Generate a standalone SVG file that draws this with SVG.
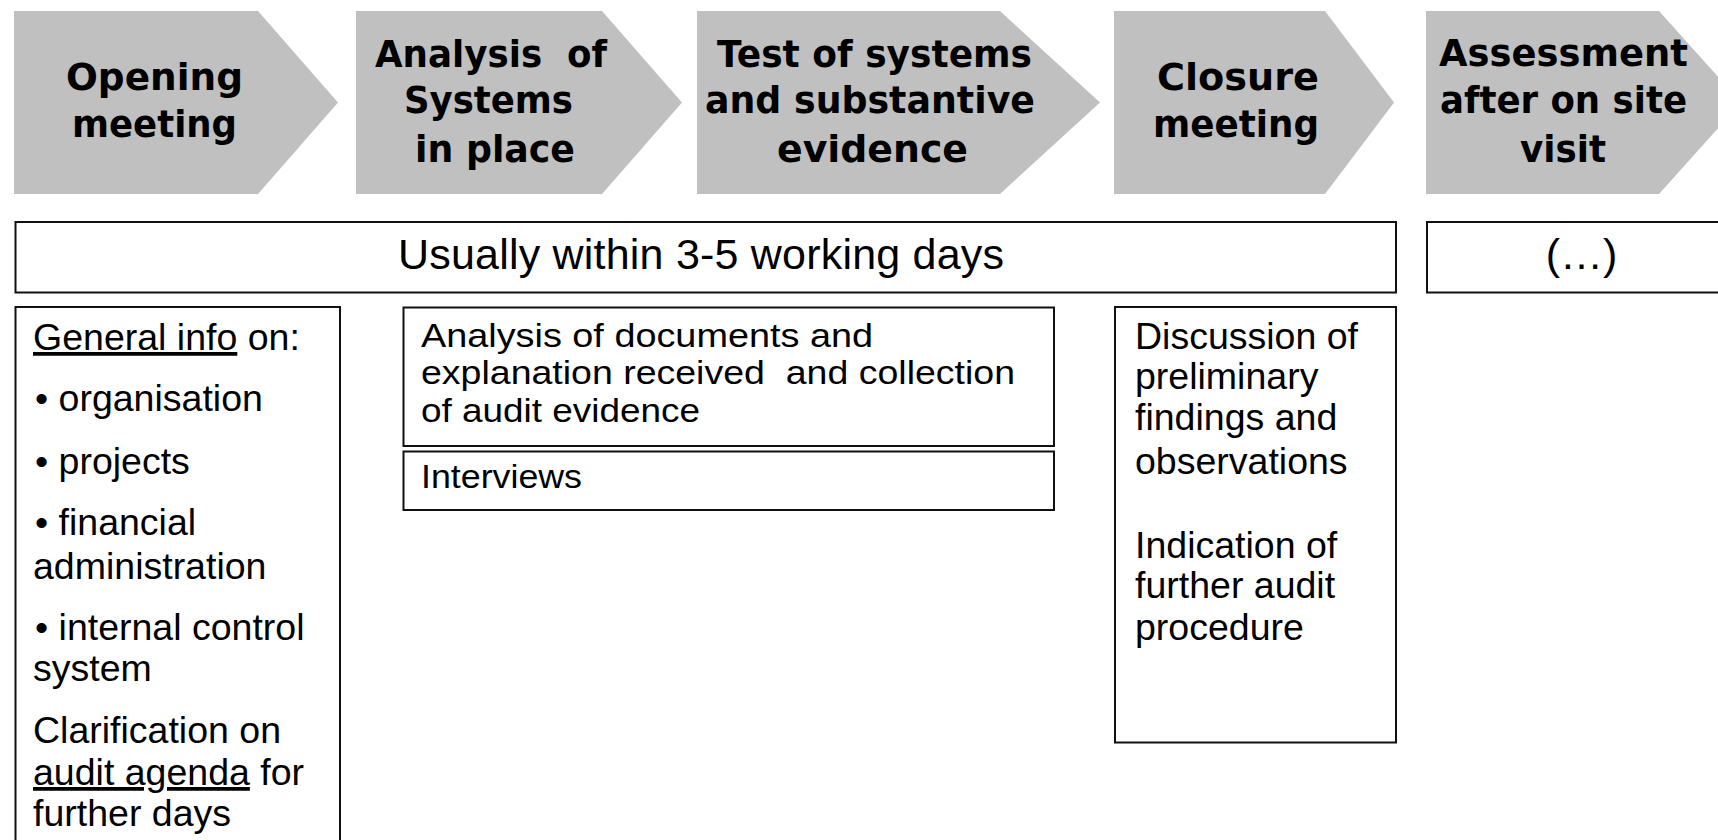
<svg xmlns="http://www.w3.org/2000/svg" width="1718" height="840" viewBox="0 0 1718 840">
  <style>
    .step { fill: #C0C0C0; }
    .head { font-family: "DejaVu Sans", "Liberation Sans", sans-serif; font-weight: bold; font-size: 38px; fill: #000; }
    .body { font-family: "Liberation Sans", Arial, sans-serif; font-size: 37.5px; fill: #000; }
    .tight { font-family: "Liberation Sans", Arial, sans-serif; font-size: 33px; fill: #000; }
    .big { font-family: "Liberation Sans", Arial, sans-serif; font-size: 43px; fill: #000; }
    .box { fill: #fff; stroke: #111; stroke-width: 2; }
    .ul { text-decoration: underline; }
  </style>

  <!-- Process steps (chevrons) -->
  <g id="step-opening">
    <polygon class="step" points="14,11 258,11 338,102.5 258,194 14,194"/>
    <text class="head" x="66" y="90" textLength="177" lengthAdjust="spacingAndGlyphs">Opening</text>
    <text class="head" x="72" y="137" textLength="165" lengthAdjust="spacingAndGlyphs">meeting</text>
  </g>

  <g id="step-analysis">
    <polygon class="step" points="356,11 602,11 682,102.5 602,194 356,194"/>
    <text class="head" x="375" y="66.7" textLength="232" lengthAdjust="spacingAndGlyphs" xml:space="preserve">Analysis  of</text>
    <text class="head" x="404" y="113.3" textLength="169" lengthAdjust="spacingAndGlyphs">Systems</text>
    <text class="head" x="415" y="161.7" textLength="160" lengthAdjust="spacingAndGlyphs">in place</text>
  </g>

  <g id="step-test">
    <polygon class="step" points="697,11 1000,11 1100,102.5 1000,194 697,194"/>
    <text class="head" x="717" y="66.7" textLength="315" lengthAdjust="spacingAndGlyphs">Test of systems</text>
    <text class="head" x="705" y="113.3" textLength="330" lengthAdjust="spacingAndGlyphs">and substantive</text>
    <text class="head" x="777" y="161.7" textLength="191" lengthAdjust="spacingAndGlyphs">evidence</text>
  </g>

  <g id="step-closure">
    <polygon class="step" points="1114,11 1325,11 1394,102.5 1325,194 1114,194"/>
    <text class="head" x="1157" y="90" textLength="162" lengthAdjust="spacingAndGlyphs">Closure</text>
    <text class="head" x="1153" y="137" textLength="166" lengthAdjust="spacingAndGlyphs">meeting</text>
  </g>

  <g id="step-assessment">
    <polygon class="step" points="1426,11 1659,11 1741,102.5 1659,194 1426,194"/>
    <text class="head" x="1439" y="65.7" textLength="249" lengthAdjust="spacingAndGlyphs">Assessment</text>
    <text class="head" x="1440" y="113" textLength="247" lengthAdjust="spacingAndGlyphs">after on site</text>
    <text class="head" x="1520" y="161.7" textLength="86" lengthAdjust="spacingAndGlyphs">visit</text>
  </g>

  <!-- Duration bars -->
  <g id="duration-onsite">
    <rect class="box" x="15.5" y="222" width="1380.5" height="70.5"/>
    <text class="big" x="398" y="269.3" textLength="606" lengthAdjust="spacing">Usually within 3-5 working days</text>
  </g>

  <g id="duration-after">
    <rect class="box" x="1427" y="222" width="310" height="70.5"/>
    <text class="big" x="1581.5" y="269.3" text-anchor="middle">(…)</text>
  </g>

  <!-- Detail boxes -->
  <g id="detail-opening">
    <rect class="box" x="15.5" y="307" width="324.5" height="560"/>
    <text class="body" x="33" y="350" xml:space="preserve"><tspan class="ul">General info</tspan> on:</text>
    <text class="body" x="35" y="411">• organisation</text>
    <text class="body" x="35" y="474">• projects</text>
    <text class="body" x="35" y="535">• financial</text>
    <text class="body" x="33" y="579">administration</text>
    <text class="body" x="35" y="640">• internal control</text>
    <text class="body" x="33" y="681">system</text>
    <text class="body" x="33" y="743">Clarification on</text>
    <text class="body" x="33" y="785"><tspan class="ul">audit agenda</tspan> for</text>
    <text class="body" x="33" y="826">further days</text>
  </g>

  <g id="detail-analysis">
    <rect class="box" x="403.5" y="307.5" width="650.5" height="138.5"/>
    <rect class="box" x="403.5" y="451.5" width="650.5" height="58.5"/>
    <text class="tight" x="421" y="346.7" textLength="452" lengthAdjust="spacingAndGlyphs">Analysis of documents and</text>
    <text class="tight" x="421" y="384" textLength="594" lengthAdjust="spacingAndGlyphs" xml:space="preserve">explanation received  and collection</text>
    <text class="tight" x="421" y="421.7" textLength="279" lengthAdjust="spacingAndGlyphs">of audit evidence</text>
    <text class="tight" x="421" y="488.3" textLength="161" lengthAdjust="spacingAndGlyphs">Interviews</text>
  </g>

  <g id="detail-closure">
    <rect class="box" x="1115" y="307" width="281" height="435.5"/>
    <text class="body" x="1135" y="349.3">Discussion of</text>
    <text class="body" x="1135" y="389">preliminary</text>
    <text class="body" x="1135" y="430">findings and</text>
    <text class="body" x="1135" y="473.5">observations</text>
    <text class="body" x="1135" y="557.5">Indication of</text>
    <text class="body" x="1135" y="597.5">further audit</text>
    <text class="body" x="1135" y="640">procedure</text>
  </g>

  <g id="connectors"/>
</svg>
